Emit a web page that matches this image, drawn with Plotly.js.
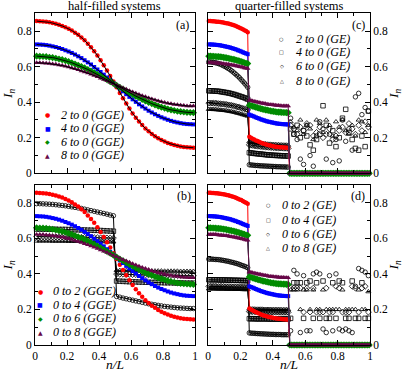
<!DOCTYPE html>
<html>
<head>
<meta charset="utf-8">
<script src="https://cdn.plot.ly/plotly-3.0.1.min.js"></script>
<style>html,body{margin:0;padding:0;background:#fff}</style>
</head>
<body>
<div id="plot" style="width:403px;height:372px"></div>
<script>
// n/L grids
var xHalf = [0.01,0.03,0.05,0.07,0.09,0.11,0.13,0.15,0.17,0.19,0.21,0.23,0.25,0.27,0.29,0.31,0.33,0.35,0.37,0.39,0.41,0.43,0.45,0.47,0.49,
  0.51,0.53,0.55,0.57,0.59,0.61,0.63,0.65,0.67,0.69,0.71,0.73,0.75,0.77,0.79,0.81,0.83,0.85,0.87,0.89,0.91,0.93,0.95,0.97,0.99];
var xQuarter = [0.005,0.015,0.025,0.035,0.045,0.055,0.065,0.075,0.085,0.095,0.105,0.115,0.125,0.135,0.145,0.155,0.165,0.175,0.185,0.195,
  0.205,0.215,0.225,0.235,0.245,0.255,0.265,0.275,0.285,0.295,0.305,0.315,0.325,0.335,0.345,0.355,0.365,0.375,0.385,0.395,
  0.405,0.415,0.425,0.435,0.445,0.455,0.465,0.475,0.485,0.495,0.505,0.515,0.525,0.535,0.545,0.555,0.565,0.575,0.585,0.595,
  0.605,0.615,0.625,0.635,0.645,0.655,0.665,0.675,0.685,0.695,0.705,0.715,0.725,0.735,0.745,0.755,0.765,0.775,0.785,0.795,
  0.805,0.815,0.825,0.835,0.845,0.855,0.865,0.875,0.885,0.895,0.905,0.915,0.925,0.935,0.945,0.955,0.965,0.975,0.985,0.995];
var xScatter = [0.51,0.53,0.55,0.57,0.59,0.61,0.63,0.65,0.67,0.69,0.71,0.73,0.75,0.77,0.79,0.81,0.83,0.85,0.87,0.89,0.91,0.93,0.95,0.97,0.99];

// half-filled GGE (same in panels a and b)
var ggeRed = [0.856,0.855,0.854,0.852,0.849,0.845,0.841,0.835,0.829,0.821,0.813,0.803,0.791,0.779,0.764,0.748,0.729,0.709,0.687,0.663,0.636,0.608,0.578,0.548,0.516,
  0.484,0.452,0.422,0.392,0.364,0.337,0.313,0.291,0.271,0.252,0.236,0.221,0.209,0.197,0.187,0.179,0.171,0.165,0.159,0.155,0.151,0.148,0.146,0.145,0.144];
var ggeBlue = [0.725,0.724,0.723,0.721,0.718,0.714,0.710,0.705,0.699,0.692,0.685,0.677,0.668,0.658,0.648,0.636,0.624,0.612,0.598,0.584,0.570,0.555,0.539,0.524,0.508,
  0.492,0.476,0.461,0.445,0.430,0.416,0.402,0.388,0.376,0.364,0.352,0.342,0.332,0.323,0.315,0.308,0.301,0.295,0.290,0.286,0.282,0.279,0.277,0.276,0.275];
var ggeGreen = [0.659,0.658,0.657,0.656,0.653,0.651,0.647,0.643,0.639,0.634,0.628,0.622,0.615,0.608,0.601,0.593,0.584,0.575,0.566,0.556,0.547,0.537,0.526,0.516,0.505,
  0.495,0.484,0.474,0.463,0.453,0.444,0.434,0.425,0.416,0.407,0.399,0.392,0.385,0.378,0.372,0.367,0.361,0.357,0.353,0.349,0.347,0.345,0.343,0.342,0.341];
var ggePurple = [0.622,0.622,0.621,0.619,0.617,0.615,0.613,0.609,0.606,0.602,0.598,0.593,0.588,0.582,0.576,0.570,0.564,0.557,0.550,0.543,0.535,0.527,0.520,0.512,0.504,
  0.496,0.488,0.480,0.473,0.465,0.457,0.450,0.443,0.436,0.430,0.424,0.418,0.412,0.407,0.403,0.398,0.394,0.391,0.387,0.385,0.383,0.381,0.379,0.378,0.378];

// quarter-filled GGE for n/L < 0.5 (same in panels c and d), zero beyond
var qRed = [0.856,0.856,0.855,0.855,0.854,0.853,0.852,0.851,0.850,0.848,0.846,0.844,0.842,0.840,0.837,0.834,0.831,0.827,0.823,0.819,0.815,0.810,0.805,0.800,0.794,
  0.206,0.200,0.195,0.190,0.185,0.181,0.177,0.173,0.169,0.166,0.163,0.160,0.158,0.156,0.154,0.152,0.150,0.149,0.148,0.147,0.146,0.145,0.145,0.144,0.144];
var qBlue = [0.725,0.725,0.724,0.724,0.723,0.722,0.721,0.720,0.718,0.716,0.714,0.712,0.710,0.708,0.705,0.702,0.699,0.696,0.692,0.689,0.685,0.681,0.677,0.674,0.670,
  0.330,0.326,0.323,0.319,0.315,0.311,0.308,0.304,0.301,0.298,0.295,0.292,0.290,0.288,0.286,0.284,0.282,0.280,0.279,0.278,0.277,0.276,0.276,0.275,0.275];
var qGreen = [0.659,0.659,0.658,0.658,0.657,0.656,0.656,0.655,0.654,0.652,0.651,0.649,0.647,0.645,0.643,0.641,0.639,0.636,0.634,0.631,0.628,0.625,0.622,0.619,0.617,
  0.383,0.381,0.378,0.375,0.372,0.369,0.366,0.364,0.361,0.359,0.357,0.355,0.353,0.351,0.349,0.348,0.346,0.345,0.344,0.344,0.343,0.342,0.342,0.341,0.341];
var qPurple = [0.622,0.622,0.622,0.621,0.621,0.620,0.619,0.618,0.617,0.616,0.615,0.614,0.613,0.611,0.609,0.608,0.606,0.604,0.602,0.600,0.598,0.596,0.593,0.591,0.589,
  0.411,0.409,0.407,0.404,0.402,0.400,0.398,0.396,0.394,0.392,0.391,0.389,0.387,0.386,0.385,0.384,0.383,0.382,0.381,0.380,0.379,0.379,0.378,0.378,0.378];
var qZero = [0,0,0,0,0,0,0,0,0,0,0,0,0,0,0,0,0,0,0,0,0,0,0,0,0,0,0,0,0,0,0,0,0,0,0,0,0,0,0,0,0,0,0,0,0,0,0,0,0,0];

// panel b: GE, 0 to 2/4/6/8
var geB2 = [0.795,0.795,0.794,0.793,0.792,0.791,0.789,0.787,0.785,0.783,0.780,0.777,0.774,0.771,0.768,0.764,0.760,0.756,0.752,0.748,0.744,0.740,0.736,0.731,0.727,
  0.273,0.269,0.264,0.260,0.256,0.252,0.248,0.244,0.240,0.236,0.232,0.229,0.226,0.223,0.220,0.217,0.215,0.213,0.211,0.209,0.208,0.207,0.206,0.205,0.205];
var geB4 = [0.652,0.652,0.652,0.652,0.651,0.651,0.651,0.650,0.650,0.650,0.649,0.649,0.648,0.648,0.647,0.647,0.646,0.646,0.645,0.645,0.644,0.643,0.642,0.641,0.640,
  0.360,0.359,0.358,0.357,0.356,0.355,0.355,0.354,0.354,0.353,0.353,0.352,0.352,0.351,0.351,0.350,0.350,0.350,0.349,0.349,0.349,0.348,0.348,0.348,0.348];
var geB6 = [0.610,0.610,0.610,0.610,0.609,0.609,0.609,0.609,0.608,0.608,0.608,0.607,0.607,0.607,0.606,0.606,0.605,0.605,0.604,0.604,0.603,0.603,0.602,0.602,0.601,
  0.399,0.398,0.398,0.397,0.397,0.396,0.396,0.395,0.395,0.394,0.394,0.393,0.393,0.393,0.392,0.392,0.392,0.391,0.391,0.391,0.391,0.390,0.390,0.390,0.390];
var geB8 = [0.585,0.585,0.585,0.585,0.585,0.584,0.584,0.584,0.584,0.584,0.583,0.583,0.583,0.583,0.582,0.582,0.582,0.582,0.581,0.581,0.581,0.581,0.580,0.580,0.580,
  0.420,0.420,0.420,0.419,0.419,0.419,0.419,0.418,0.418,0.418,0.418,0.417,0.417,0.417,0.417,0.416,0.416,0.416,0.416,0.416,0.415,0.415,0.415,0.415,0.415];

// panel c: GE, 2/4/6/8 to 0, for n/L < 0.5 and scattered beyond
var geC2 = [0.627,0.626,0.625,0.624,0.622,0.620,0.617,0.614,0.610,0.605,0.601,0.595,0.590,0.584,0.577,0.570,0.562,0.554,0.546,0.537,0.527,0.517,0.507,0.496,0.484,
  0.048,0.047,0.046,0.045,0.044,0.044,0.043,0.042,0.042,0.041,0.041,0.040,0.040,0.039,0.039,0.038,0.038,0.037,0.037,0.037,0.036,0.036,0.036,0.035,0.035];
var geC4 = [0.464,0.464,0.464,0.463,0.462,0.462,0.461,0.460,0.458,0.457,0.455,0.454,0.452,0.450,0.448,0.445,0.443,0.440,0.437,0.434,0.431,0.428,0.425,0.421,0.417,
  0.116,0.115,0.113,0.112,0.111,0.110,0.109,0.108,0.107,0.106,0.105,0.104,0.103,0.103,0.102,0.101,0.101,0.100,0.100,0.099,0.099,0.098,0.098,0.098,0.097];
var geC6 = [0.395,0.395,0.395,0.394,0.394,0.393,0.392,0.391,0.390,0.389,0.388,0.387,0.385,0.383,0.382,0.380,0.378,0.375,0.373,0.371,0.368,0.365,0.363,0.360,0.357,
  0.160,0.158,0.157,0.155,0.154,0.153,0.152,0.151,0.150,0.149,0.148,0.147,0.146,0.146,0.145,0.144,0.144,0.143,0.143,0.142,0.142,0.141,0.141,0.141,0.140];
var geC8 = [0.360,0.360,0.360,0.359,0.359,0.358,0.357,0.356,0.355,0.354,0.353,0.352,0.350,0.348,0.347,0.345,0.343,0.340,0.338,0.336,0.333,0.330,0.328,0.325,0.322,
  0.178,0.176,0.175,0.173,0.172,0.171,0.170,0.169,0.168,0.167,0.166,0.165,0.164,0.164,0.163,0.162,0.162,0.161,0.161,0.160,0.160,0.159,0.159,0.159,0.158];
var scC2 = [0.31,0.22,0.19,0.08,0.05,0.27,0.10,0.04,0.21,0.29,0.25,0.08,0.22,0.06,0.19,0.07,0.30,0.18,0.25,0.13,0.43,0.45,0.33,0.37,0.35];
var scC4 = [0.25,0.22,0.27,0.20,0.24,0.21,0.16,0.13,0.19,0.22,0.38,0.27,0.17,0.24,0.15,0.20,0.31,0.36,0.23,0.19,0.14,0.13,0.21,0.15,0.35];
var scC6 = [0.27,0.25,0.22,0.26,0.24,0.28,0.27,0.21,0.23,0.26,0.20,0.22,0.25,0.19,0.21,0.24,0.26,0.23,0.28,0.25,0.22,0.27,0.24,0.29,0.26];
var scC8 = [0.29,0.26,0.24,0.30,0.22,0.27,0.25,0.19,0.30,0.28,0.23,0.30,0.27,0.21,0.29,0.26,0.30,0.24,0.22,0.27,0.21,0.30,0.29,0.23,0.27];

// panel d: GE, 0 to 2/4/6/8
var geD2 = [0.483,0.483,0.483,0.482,0.481,0.481,0.480,0.479,0.477,0.476,0.474,0.472,0.471,0.468,0.466,0.464,0.461,0.459,0.456,0.453,0.449,0.446,0.443,0.439,0.435,
  0.068,0.067,0.066,0.066,0.065,0.064,0.064,0.063,0.063,0.062,0.062,0.061,0.061,0.060,0.060,0.060,0.059,0.059,0.059,0.059,0.058,0.058,0.058,0.058,0.058];
var geD4 = [0.367,0.367,0.367,0.367,0.367,0.367,0.366,0.366,0.366,0.366,0.366,0.365,0.365,0.365,0.365,0.364,0.364,0.364,0.364,0.363,0.363,0.363,0.362,0.362,0.362,
  0.148,0.148,0.148,0.148,0.147,0.147,0.147,0.147,0.147,0.147,0.147,0.147,0.146,0.146,0.146,0.146,0.146,0.146,0.146,0.146,0.146,0.146,0.146,0.146,0.146];
var geD6 = [0.330,0.330,0.330,0.330,0.330,0.329,0.329,0.329,0.329,0.329,0.328,0.328,0.328,0.328,0.327,0.327,0.327,0.327,0.326,0.326,0.326,0.326,0.325,0.325,0.325,
  0.188,0.188,0.188,0.188,0.187,0.187,0.187,0.187,0.186,0.186,0.186,0.186,0.186,0.185,0.185,0.185,0.185,0.185,0.185,0.184,0.184,0.184,0.184,0.184,0.184];
var geD8 = [0.316,0.316,0.316,0.316,0.316,0.315,0.315,0.315,0.315,0.315,0.315,0.314,0.314,0.314,0.314,0.314,0.313,0.313,0.313,0.313,0.313,0.312,0.312,0.312,0.312,
  0.203,0.203,0.203,0.203,0.202,0.202,0.202,0.202,0.202,0.201,0.201,0.201,0.201,0.201,0.200,0.200,0.200,0.200,0.200,0.200,0.199,0.199,0.199,0.199,0.199];
var scD2 = [0.08,0.42,0.40,0.07,0.39,0.08,0.08,0.40,0.41,0.40,0.09,0.07,0.39,0.08,0.40,0.09,0.08,0.09,0.08,0.07,0.33,0.43,0.42,0.41,0.39];
var scD4 = [0.15,0.35,0.35,0.35,0.15,0.35,0.36,0.15,0.35,0.15,0.36,0.15,0.15,0.35,0.15,0.36,0.35,0.15,0.15,0.36,0.15,0.15,0.35,0.15,0.15];
var scD6 = [0.32,0.32,0.32,0.32,0.185,0.32,0.185,0.32,0.185,0.185,0.185,0.32,0.185,0.185,0.33,0.32,0.185,0.185,0.185,0.33,0.32,0.185,0.32,0.33,0.185];
var scD8 = [0.31,0.31,0.31,0.20,0.31,0.31,0.20,0.31,0.20,0.20,0.31,0.20,0.20,0.20,0.20,0.20,0.31,0.20,0.20,0.20,0.20,0.31,0.20,0.20,0.30];

var labelsHalfTo0 = ['2 to 0 (GGE)', '4 to 0 (GGE)', '6 to 0 (GGE)', '8 to 0 (GGE)'];
var labelsHalfFrom0 = ['0 to 2 (GGE)', '0 to 4 (GGE)', '0 to 6 (GGE)', '0 to 8 (GGE)'];
var labelsQuarterTo0 = ['2 to 0 (GE)', '4 to 0 (GE)', '6 to 0 (GE)', '8 to 0 (GE)'];
var labelsQuarterFrom0 = ['0 to 2 (GE)', '0 to 4 (GE)', '0 to 6 (GE)', '0 to 8 (GE)'];

var colors = ['#ff0000', '#0000ff', '#008b00', '#670748'];
var symbols = ['circle', 'square', 'diamond', 'triangle-up'];
var sizes = [4.5, 4, 5.5, 5];
var serif = '"Liberation Serif", "Times New Roman", serif';

var W = 403, H = 372;
var traces = [];

// coloured GGE markers
function gge(x, y, i, xa, ya, mode) {
    return {x: x, y: y, xaxis: xa, yaxis: ya, type: 'scatter', mode: mode,
        marker: {color: colors[i], symbol: symbols[i], size: sizes[i]},
        line: {color: colors[i], width: 1}, cliponaxis: false,
        showlegend: false, hoverinfo: 'skip'};
}
// open black GE markers
function ge(x, y, i, xa, ya, mode) {
    return {x: x, y: y, xaxis: xa, yaxis: ya, type: 'scatter', mode: mode,
        marker: {color: '#000', symbol: symbols[i] + '-open', size: 4.5, line: {width: 0.8, color: '#000'}},
        line: {color: '#000', width: 1}, cliponaxis: false,
        showlegend: false, hoverinfo: 'skip'};
}

var half = [ggeRed, ggeBlue, ggeGreen, ggePurple];
var quarter = [qRed, qBlue, qGreen, qPurple];
var geB = [geB2, geB4, geB6, geB8];
var geC = [geC2, geC4, geC6, geC8], scC = [scC2, scC4, scC6, scC8];
var geD = [geD2, geD4, geD6, geD8], scD = [scD2, scD4, scD6, scD8];
var xLow = xQuarter.slice(0, 50);

// panel (a)
half.forEach(function(y, i) { traces.push(gge(xHalf, y, i, 'x', 'y', 'markers')); });
half.forEach(function(y) {
    traces.push({x: xHalf, y: y, xaxis: 'x', yaxis: 'y', type: 'scatter', mode: 'lines',
        line: {color: '#000', width: 1}, showlegend: false, hoverinfo: 'skip'});
});
// panel (b)
geB.forEach(function(y, i) { traces.push(ge(xHalf, y, i, 'x2', 'y2', 'lines+markers')); });
half.forEach(function(y, i) { traces.push(gge(xHalf, y, i, 'x2', 'y2', 'markers')); });
// panel (c)
geC.forEach(function(y, i) { traces.push(ge(xLow, y, i, 'x3', 'y3', 'lines+markers')); });
scC.forEach(function(y, i) { traces.push(ge(xScatter, y, i, 'x3', 'y3', 'markers')); });
quarter.forEach(function(y, i) { traces.push(gge(xQuarter, y.concat(qZero), i, 'x3', 'y3', 'lines+markers')); });
// panel (d)
geD.forEach(function(y, i) { traces.push(ge(xLow, y, i, 'x4', 'y4', 'lines+markers')); });
scD.forEach(function(y, i) { traces.push(ge(xScatter, y, i, 'x4', 'y4', 'markers')); });
quarter.forEach(function(y, i) { traces.push(gge(xQuarter, y.concat(qZero), i, 'x4', 'y4', 'lines+markers')); });

var tickFont = {family: serif, size: 11.5, color: '#000'};
var titleFont = {family: serif, size: 13.5, color: '#000'};

function xAxis(dom, anchor, labels) {
    var ax = {domain: dom, anchor: anchor, range: [0, 1], tick0: 0, dtick: 0.2,
        ticks: 'inside', ticklen: 5, tickwidth: 1, tickcolor: '#000',
        minor: {dtick: 0.1, ticks: 'inside', ticklen: 3, tickcolor: '#000'},
        showline: true, linecolor: '#000', linewidth: 1, mirror: 'ticks',
        showgrid: false, zeroline: false, showticklabels: labels, tickfont: tickFont};
    if (labels) ax.title = {text: '<i>n/L</i>', font: titleFont, standoff: 0};
    return ax;
}
function yAxis(dom, anchor, side) {
    return {domain: dom, anchor: anchor, side: side, range: [0, 0.9], tick0: 0, dtick: 0.2,
        ticks: 'inside', ticklen: 5, tickwidth: 1, tickcolor: '#000',
        minor: {dtick: 0.1, ticks: 'inside', ticklen: 3, tickcolor: '#000'},
        showline: true, linecolor: '#000', linewidth: 1, mirror: 'ticks',
        showgrid: false, zeroline: false, tickfont: tickFont,
        title: {text: '<i>I<sub>n</sub></i>', font: titleFont, standoff: 4}};
}

var domLeft = [35 / W, 195 / W], domRight = [208 / W, 370 / W];
var domTop = [1 - 173.3 / H, 1 - 13.3 / H], domBottom = [1 - 345 / H, 1 - 185 / H];

// text placed in pixels
function note(text, px, py, font, anchor) {
    return {xref: 'paper', yref: 'paper', x: px / W, y: 1 - py / H, text: text, showarrow: false,
        xanchor: anchor || 'center', yanchor: 'middle', borderpad: 0, font: font};
}
var legendFont = {family: serif, size: 12, color: '#000', style: 'italic'};
var filledSyms = ['\u25CF', '\u25A0', '\u25C6', '\u25B2'];
var openSyms = ['\u25CB', '\u25A1', '\u25C7', '\u25B3'];

var annotations = [
    note('half-filled systems', 115, 6, {family: serif, size: 12.5, color: '#000'}),
    note('quarter-filled systems', 289, 6, {family: serif, size: 12.5, color: '#000'}),
    note('(a)', 182, 25, {family: serif, size: 12, color: '#000'}),
    note('(b)', 184, 196, {family: serif, size: 12, color: '#000'}),
    note('(c)', 358, 25, {family: serif, size: 12, color: '#000'}),
    note('(d)', 358, 196, {family: serif, size: 12, color: '#000'})
];
function legendBlock(labels, sym, symColor, symSize, sx, tx, y0, step) {
    labels.forEach(function(t, i) {
        var y = y0 + i * step;
        annotations.push(note(sym[i], sx, y, {family: 'DejaVu Sans', size: symSize, color: symColor ? symColor[i] : '#000'}));
        annotations.push(note(t, tx, y, legendFont, 'left'));
    });
}
legendBlock(labelsHalfTo0, filledSyms, colors, 6, 47.5, 60, 115, 13.4);
legendBlock(labelsHalfFrom0, filledSyms, colors, 6, 40, 52, 291, 13.7);
legendBlock(labelsQuarterTo0, openSyms, null, 5, 281.5, 295, 38.5, 14);
legendBlock(labelsQuarterFrom0, openSyms, null, 5, 268, 281, 205.5, 14);

var layout = {
    width: W, height: H, autosize: false,
    margin: {l: 0, r: 0, t: 0, b: 0},
    paper_bgcolor: '#fff', plot_bgcolor: '#fff',
    font: {family: serif, color: '#000'},
    showlegend: false,
    xaxis: xAxis(domLeft, 'y', false), yaxis: yAxis(domTop, 'x', 'left'),
    xaxis2: xAxis(domLeft, 'y2', true), yaxis2: yAxis(domBottom, 'x2', 'left'),
    xaxis3: xAxis(domRight, 'y3', false), yaxis3: yAxis(domTop, 'x3', 'right'),
    xaxis4: xAxis(domRight, 'y4', true), yaxis4: yAxis(domBottom, 'x4', 'right'),
    annotations: annotations
};

Plotly.newPlot('plot', traces, layout, {staticPlot: true, displayModeBar: false});
</script>
</body>
</html>
